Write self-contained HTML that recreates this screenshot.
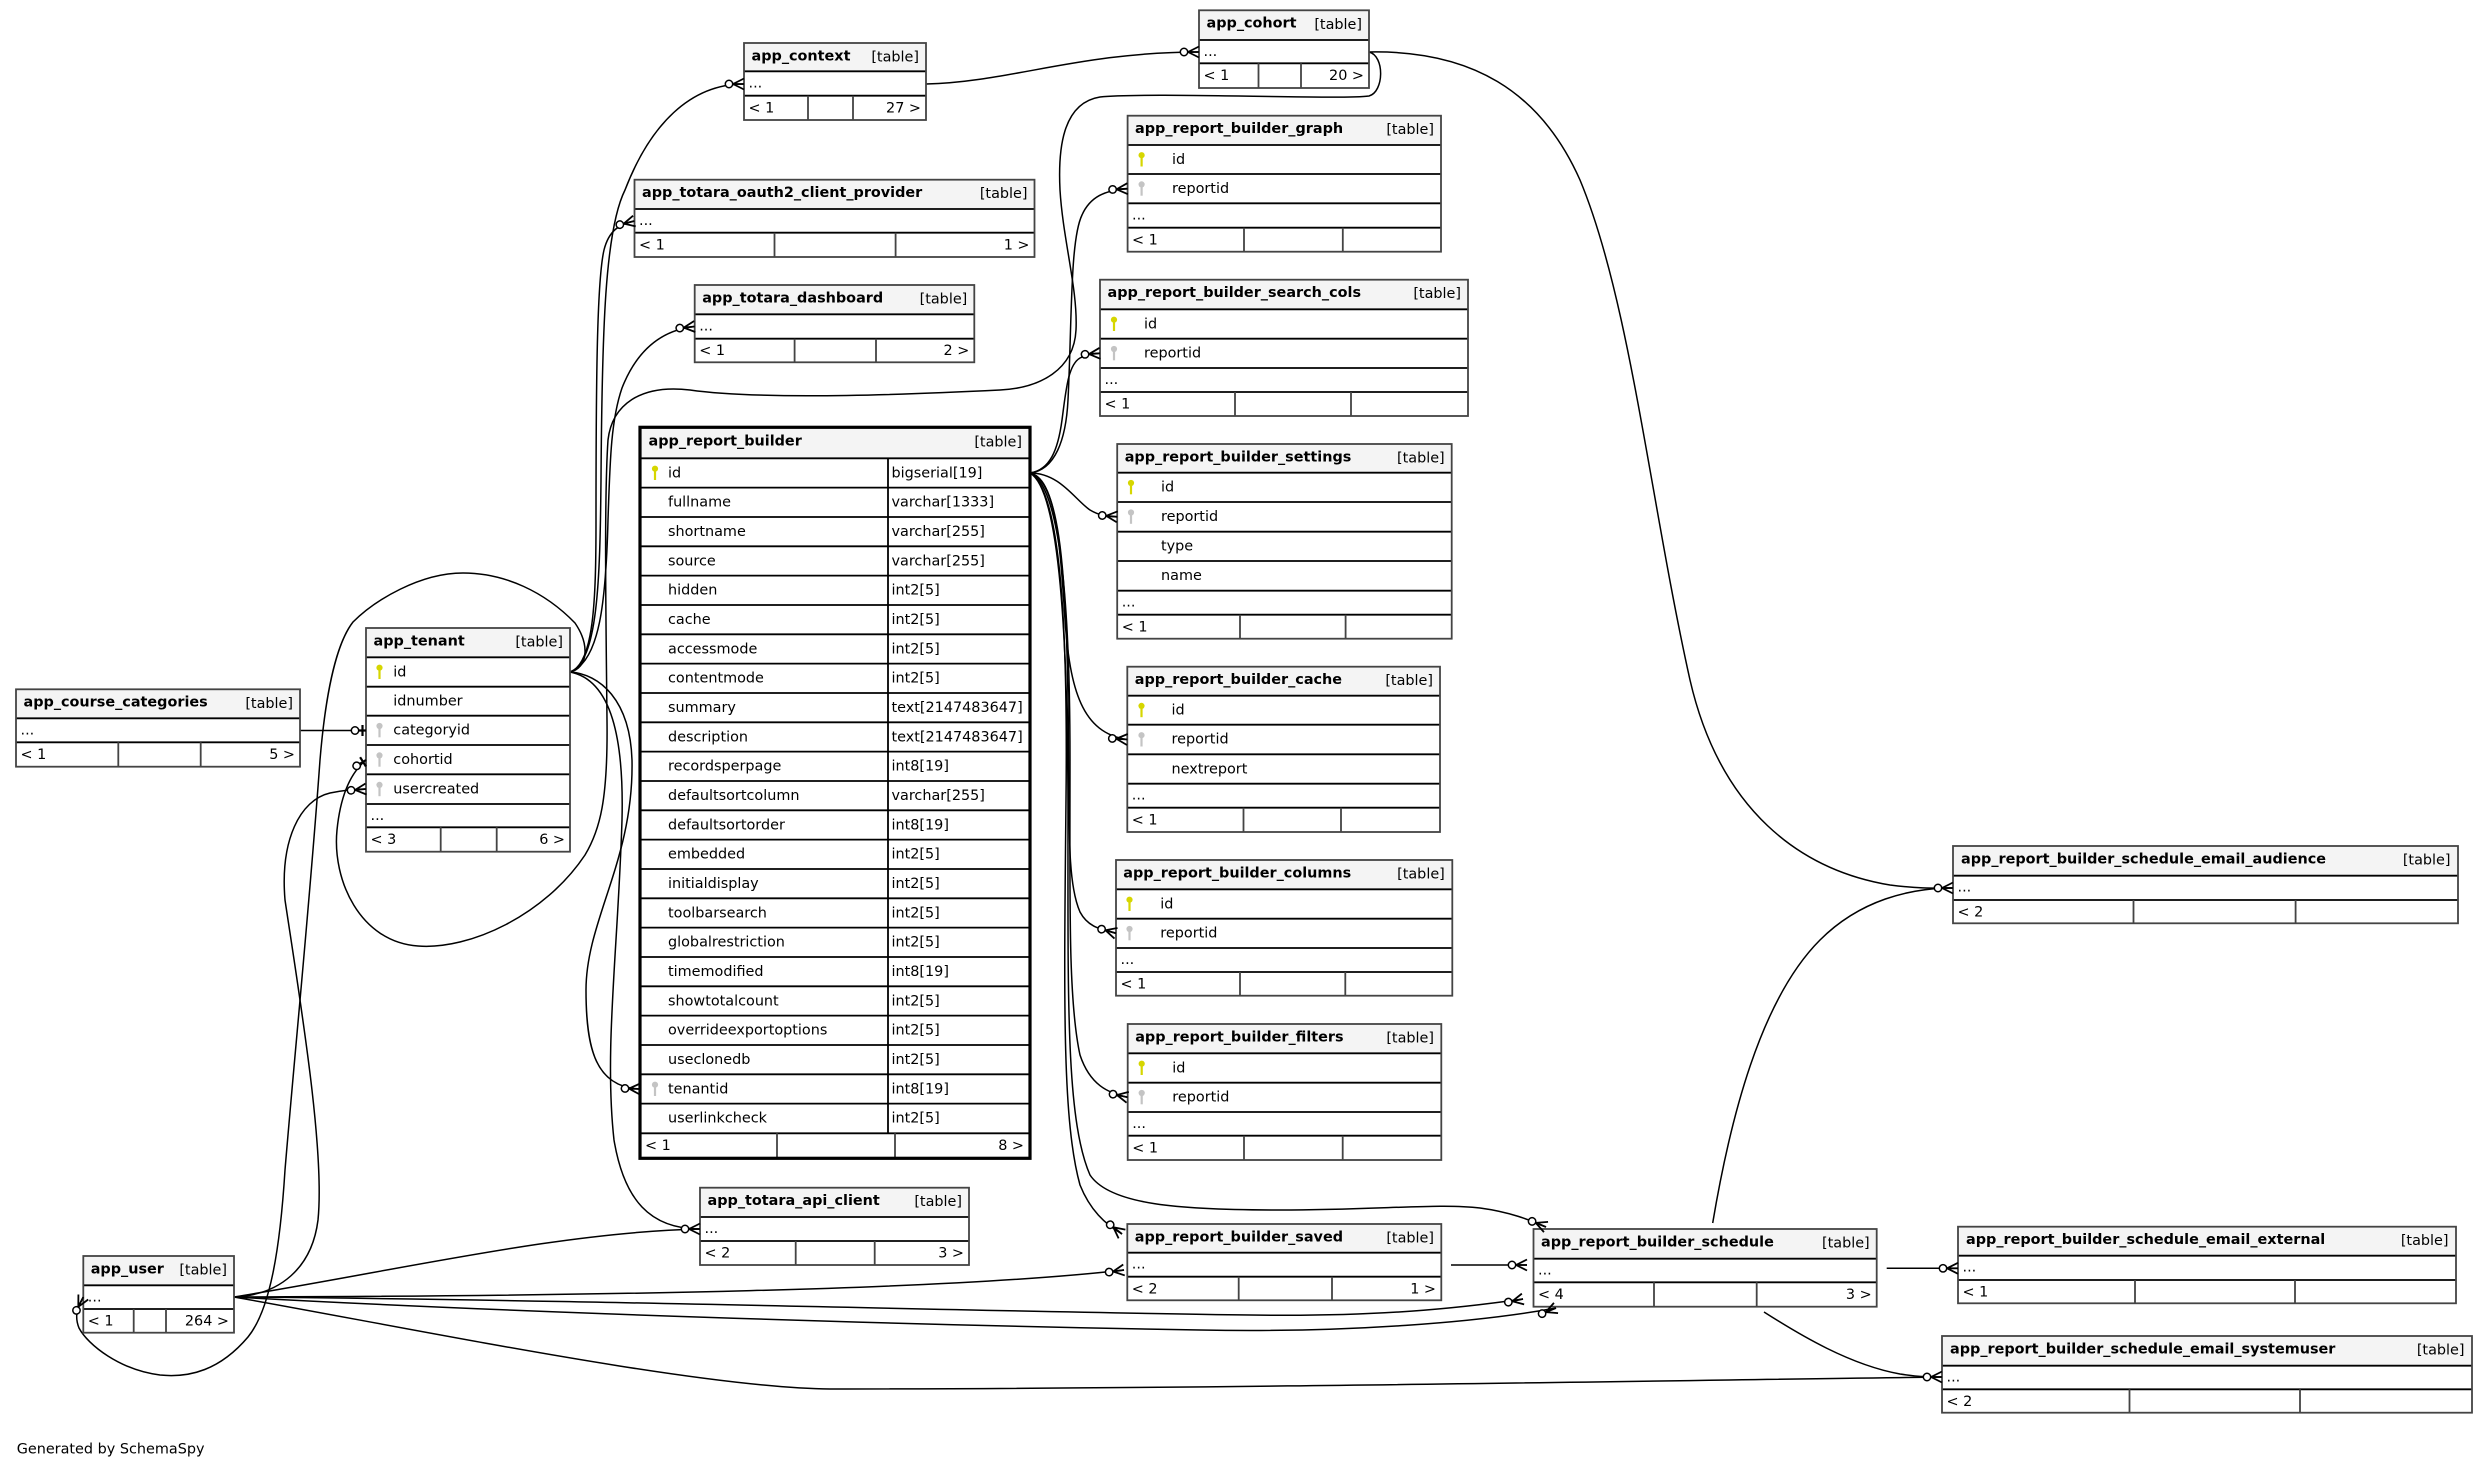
<!DOCTYPE html>
<html><head><meta charset="utf-8"><style>
html,body{margin:0;padding:0;background:#fff;}
svg{display:block;}
text{font-family:"DejaVu Sans","Liberation Sans",sans-serif;font-size:14.4px;fill:#000;}
.ti{font-weight:bold;}
.e{fill:none;stroke:#000;stroke-width:1.5;}
.sep{fill:none;stroke:#000;stroke-width:1.8;}
.dv{fill:none;stroke:#444;stroke-width:1.8;}
.ol{fill:none;stroke:#444;stroke-width:1.8;}
.olb{fill:none;stroke:#000;stroke-width:3.2;}
.bg{fill:#fff;}
.hd{fill:#f4f4f4;}
</style></head><body>
<svg xmlns="http://www.w3.org/2000/svg" xmlns:xlink="http://www.w3.org/1999/xlink" width="2484" height="1468" viewBox="0 0 2484 1468">
<defs>
<g id="pk"><circle cx="0" cy="-4.3" r="3.1" fill="#d6d600"/><rect x="-1.1" y="-2" width="2.2" height="9" fill="#d6d600"/></g>
<g id="fk"><circle cx="0" cy="-4.3" r="3.1" fill="#c4c4c4"/><rect x="-1.1" y="-2" width="2.2" height="9" fill="#c4c4c4"/></g>
<g id="crow"><path d="M-11,0 L0,-5.5 M-11,0 L0,5.5 M-11,0 L0,0" fill="none" stroke="#000" stroke-width="1.8"/><circle cx="-15" cy="0" r="3.7" fill="#fff" stroke="#000" stroke-width="1.5"/></g>
<g id="tee"><path d="M-8,0 L0,0 M-3.5,-5.5 L-3.5,5.5" fill="none" stroke="#000" stroke-width="2.2"/><circle cx="-11" cy="0" r="3.7" fill="#fff" stroke="#000" stroke-width="1.5"/></g>
</defs>

<!-- EDGES -->
<g class="e">
<path d="M570,672 C598,662 600,580 601,480 C602,330 605,230 625,190 C650,125 690,84 744,84"/>
<path d="M570,672 C594,664 596,600 596,520 C596,380 597,280 604,250 C609,230 620,224 634.4,221"/>
<path d="M570,672 C600,662 606,600 608,520 C610,460 611,420 622,388 C637,350 662,330 694.7,326.5"/>
<path d="M570,672 C600,674 630,700 632,760 C634,860 586,920 586,990 C586,1050 596,1087 640,1089"/>
<path d="M570,672 C612,680 624,740 622,820 C618,950 604,1050 614,1140 C624,1200 650,1229 700,1229"/>
<path d="M570,672 C588,668 590,645 575,623 C545,592 505,573 463,573 C420,573 375,600 353,622 C335,645 325,700 320,760 C310,900 295,1050 285,1170 C280,1250 270,1310 248,1337 C220,1370 190,1378 160,1375 C120,1370 88,1345 79,1328 C75,1318 76,1310 83.3,1297"/>
<path d="M234,1297 C280,1295 312,1268 318,1220 C325,1150 300,1000 285,900 C280,840 300,800 330,793 C345,790 355,789 366,789"/>
<path d="M1369,52 C1385,56 1384,92 1369,96 C1340,100 1150,92 1100,97 C1062,103 1058,150 1060,190 C1063,240 1078,290 1076,330 C1074,370 1040,388 1000,390 C900,395 760,400 690,390 C640,384 612,405 608,440 C604,500 606,620 607,720 C608,800 600,830 585,855 C545,915 470,950 418,946 C360,942 332,880 337,830 C340,800 348,775 366,760"/>
<path d="M300,730.5 L366,730.5"/>
<path d="M926,84 C1010,82 1080,52 1199,52"/>
<path d="M1030,473 C1055,470 1066,440 1068,400 C1072,320 1070,240 1082,215 C1090,197 1105,190 1127.6,188.7"/>
<path d="M1030,473 C1050,470 1058,450 1062,420 C1066,390 1068,365 1080,358 C1088,354 1093,353.5 1100,353.3"/>
<path d="M1030,473 C1060,473 1075,500 1090,510 C1100,516 1108,516.5 1117.2,516.8"/>
<path d="M1030,473 C1055,478 1060,540 1065,620 C1070,690 1082,733 1127.3,739.5"/>
<path d="M1030,473 C1058,480 1066,560 1068,700 C1070,820 1066,880 1080,912 C1088,927 1100,929 1116,933.3"/>
<path d="M1030,473 C1060,485 1070,600 1070,760 C1070,900 1068,1000 1080,1055 C1090,1085 1108,1093 1127.7,1097.3"/>
<path d="M1030,473 C1060,490 1068,620 1066,800 C1064,1000 1062,1120 1080,1185 C1090,1210 1105,1224 1122,1234"/>
<path d="M1030,473 C1060,490 1068,640 1068,820 C1068,1000 1066,1120 1090,1175 C1110,1205 1180,1210 1280,1210 C1380,1210 1440,1203 1480,1208 C1510,1212 1530,1220 1546,1227"/>
<path d="M234,1297 C400,1270 560,1232 700,1229"/>
<path d="M234,1297 C600,1296 950,1290 1124,1270"/>
<path d="M234,1297 C600,1300 1000,1312 1250,1315 C1380,1317 1460,1308 1523,1299"/>
<path d="M234,1297 C500,1312 900,1325 1200,1330 C1350,1333 1480,1322 1556,1308"/>
<path d="M234,1297 C420,1330 700,1388 830,1389 C1200,1389 1700,1380 1942,1377"/>
<path d="M1451,1265 L1527,1265"/>
<path d="M1886.7,1268.3 L1958,1268.3"/>
<path d="M1764,1312 C1800,1335 1850,1365 1900,1374 C1920,1377 1930,1377 1942,1377"/>
<path d="M1369,52 C1470,50 1540,90 1580,180 C1630,300 1650,500 1690,680 C1720,810 1800,870 1890,885 C1920,889 1940,888 1953,888"/>
<path d="M1712.7,1223 C1730,1120 1760,1000 1820,940 C1860,900 1910,888 1953,888"/>
</g>

<!-- app_context -->
<g>
<rect class="bg" x="744" y="43" width="182" height="77"/>
<rect class="hd" x="744" y="43" width="182" height="28.3"/>
<path class="sep" d="M744,71.3H926M744,95.7H926"/>
<path class="dv" d="M808,95.7V120M853,95.7V120"/>
<rect class="ol" x="744" y="43" width="182" height="77"/>
<text class="ti" x="751.5" y="60.3">app_context</text><text x="919" y="61.5" text-anchor="end">[table]</text>
<text x="748.5" y="87.3">...</text>
<text x="748.5" y="112.3">&lt; 1</text><text x="921" y="112.3" text-anchor="end">27 &gt;</text>
</g>

<!-- app_cohort -->
<g>
<rect class="bg" x="1199" y="10.3" width="170" height="77.7"/>
<rect class="hd" x="1199" y="10.3" width="170" height="29.7"/>
<path class="sep" d="M1199,40H1369M1199,63.3H1369"/>
<path class="dv" d="M1258.5,63.3V88M1301,63.3V88"/>
<rect class="ol" x="1199" y="10.3" width="170" height="77.7"/>
<text class="ti" x="1206.5" y="27.6">app_cohort</text><text x="1362" y="28.8" text-anchor="end">[table]</text>
<text x="1203.5" y="56">...</text>
<text x="1203.5" y="80">&lt; 1</text><text x="1364" y="80" text-anchor="end">20 &gt;</text>
</g>

<!-- oauth2 -->
<g>
<rect class="bg" x="634.5" y="179.7" width="400" height="77.3"/>
<rect class="hd" x="634.5" y="179.7" width="400" height="29.3"/>
<path class="sep" d="M634.5,209H1034.5M634.5,232.7H1034.5"/>
<path class="dv" d="M774.5,232.7V257M895.6,232.7V257"/>
<rect class="ol" x="634.5" y="179.7" width="400" height="77.3"/>
<text class="ti" x="642" y="197">app_totara_oauth2_client_provider</text><text x="1027.5" y="198.2" text-anchor="end">[table]</text>
<text x="639" y="225">...</text>
<text x="639" y="249.3">&lt; 1</text><text x="1029.5" y="249.3" text-anchor="end">1 &gt;</text>
</g>

<!-- dashboard -->
<g>
<rect class="bg" x="694.7" y="285" width="279.6" height="77.3"/>
<rect class="hd" x="694.7" y="285" width="279.6" height="29.3"/>
<path class="sep" d="M694.7,314.3H974.3M694.7,338.7H974.3"/>
<path class="dv" d="M794.6,338.7V362.3M876,338.7V362.3"/>
<rect class="ol" x="694.7" y="285" width="279.6" height="77.3"/>
<text class="ti" x="702.2" y="302.3">app_totara_dashboard</text><text x="967.3" y="303.5" text-anchor="end">[table]</text>
<text x="699.2" y="330.3">...</text>
<text x="699.2" y="355">&lt; 1</text><text x="969.3" y="355" text-anchor="end">2 &gt;</text>
</g>

<!-- graph -->
<g>
<rect class="bg" x="1127.6" y="115.7" width="313.4" height="136"/>
<rect class="hd" x="1127.6" y="115.7" width="313.4" height="29.3"/>
<path class="sep" d="M1127.6,145H1441M1127.6,174H1441M1127.6,203.3H1441M1127.6,227.7H1441"/>
<path class="dv" d="M1244,227.7V251.7M1342.8,227.7V251.7"/>
<rect class="ol" x="1127.6" y="115.7" width="313.4" height="136"/>
<text class="ti" x="1135" y="133">app_report_builder_graph</text><text x="1434" y="134.2" text-anchor="end">[table]</text>
<use xlink:href="#pk" x="1141.6" y="159.5"/><text x="1172" y="164">id</text>
<use xlink:href="#fk" x="1141.6" y="188.7"/><text x="1172" y="193.2">reportid</text>
<text x="1132" y="219.3">...</text>
<text x="1132" y="244.3">&lt; 1</text>
</g>

<!-- search_cols -->
<g>
<rect class="bg" x="1100" y="279.7" width="368" height="136.3"/>
<rect class="hd" x="1100" y="279.7" width="368" height="29.6"/>
<path class="sep" d="M1100,309.3H1468M1100,338.7H1468M1100,368H1468M1100,392H1468"/>
<path class="dv" d="M1235,392V416M1351,392V416"/>
<rect class="ol" x="1100" y="279.7" width="368" height="136.3"/>
<text class="ti" x="1107.5" y="297">app_report_builder_search_cols</text><text x="1461" y="298.2" text-anchor="end">[table]</text>
<use xlink:href="#pk" x="1114" y="324"/><text x="1144" y="328.3">id</text>
<use xlink:href="#fk" x="1114" y="353.3"/><text x="1144" y="357.7">reportid</text>
<text x="1104.5" y="384">...</text>
<text x="1104.5" y="408.6">&lt; 1</text>
</g>

<!-- settings -->
<g>
<rect class="bg" x="1117.2" y="444" width="334.5" height="194.7"/>
<rect class="hd" x="1117.2" y="444" width="334.5" height="28.7"/>
<path class="sep" d="M1117.2,472.7H1451.7M1117.2,502H1451.7M1117.2,531.7H1451.7M1117.2,561H1451.7M1117.2,590.7H1451.7M1117.2,614.7H1451.7"/>
<path class="dv" d="M1240,614.7V638.7M1345.6,614.7V638.7"/>
<rect class="ol" x="1117.2" y="444" width="334.5" height="194.7"/>
<text class="ti" x="1124.7" y="461.3">app_report_builder_settings</text><text x="1444.7" y="462.5" text-anchor="end">[table]</text>
<use xlink:href="#pk" x="1131" y="487.3"/><text x="1161" y="491.7">id</text>
<use xlink:href="#fk" x="1131" y="516.8"/><text x="1161" y="521">reportid</text>
<text x="1161" y="550.7">type</text>
<text x="1161" y="580">name</text>
<text x="1121.7" y="606.7">...</text>
<text x="1121.7" y="631.3">&lt; 1</text>
</g>

<!-- cache -->
<g>
<rect class="bg" x="1127.3" y="666.7" width="312.7" height="165.3"/>
<rect class="hd" x="1127.3" y="666.7" width="312.7" height="29"/>
<path class="sep" d="M1127.3,695.7H1440M1127.3,724.7H1440M1127.3,754.3H1440M1127.3,783.7H1440M1127.3,807.7H1440"/>
<path class="dv" d="M1243.5,807.7V832M1341,807.7V832"/>
<rect class="ol" x="1127.3" y="666.7" width="312.7" height="165.3"/>
<text class="ti" x="1134.8" y="684">app_report_builder_cache</text><text x="1433" y="685.2" text-anchor="end">[table]</text>
<use xlink:href="#pk" x="1141.5" y="710.2"/><text x="1171.5" y="714.7">id</text>
<use xlink:href="#fk" x="1141.5" y="739.5"/><text x="1171.5" y="743.7">reportid</text>
<text x="1171.5" y="773.3">nextreport</text>
<text x="1131.8" y="799.7">...</text>
<text x="1131.8" y="824.3">&lt; 1</text>
</g>

<!-- columns -->
<g>
<rect class="bg" x="1116" y="860" width="336.3" height="135.7"/>
<rect class="hd" x="1116" y="860" width="336.3" height="29.3"/>
<path class="sep" d="M1116,889.3H1452.3M1116,918.7H1452.3M1116,948H1452.3M1116,972H1452.3"/>
<path class="dv" d="M1240,972V995.7M1345.3,972V995.7"/>
<rect class="ol" x="1116" y="860" width="336.3" height="135.7"/>
<text class="ti" x="1123.3" y="877.3">app_report_builder_columns</text><text x="1444.8" y="878.5" text-anchor="end">[table]</text>
<use xlink:href="#pk" x="1129.5" y="904"/><text x="1160.3" y="908.3">id</text>
<use xlink:href="#fk" x="1129.5" y="933.3"/><text x="1160.3" y="937.7">reportid</text>
<text x="1120.5" y="964">...</text>
<text x="1120.5" y="988.6">&lt; 1</text>
</g>

<!-- filters -->
<g>
<rect class="bg" x="1127.7" y="1024" width="313.6" height="136"/>
<rect class="hd" x="1127.7" y="1024" width="313.6" height="29.3"/>
<path class="sep" d="M1127.7,1053.3H1441.3M1127.7,1082.7H1441.3M1127.7,1112H1441.3M1127.7,1135.7H1441.3"/>
<path class="dv" d="M1244,1135.7V1160M1342.7,1135.7V1160"/>
<rect class="ol" x="1127.7" y="1024" width="313.6" height="136"/>
<text class="ti" x="1135.2" y="1041.3">app_report_builder_filters</text><text x="1434" y="1042.5" text-anchor="end">[table]</text>
<use xlink:href="#pk" x="1141.7" y="1068"/><text x="1172.3" y="1072.3">id</text>
<use xlink:href="#fk" x="1141.7" y="1097.3"/><text x="1172.3" y="1101.7">reportid</text>
<text x="1132.2" y="1128">...</text>
<text x="1132.2" y="1152.3">&lt; 1</text>
</g>

<!-- saved -->
<g>
<rect class="bg" x="1127.3" y="1224" width="314" height="76.3"/>
<rect class="hd" x="1127.3" y="1224" width="314" height="28.7"/>
<path class="sep" d="M1127.3,1252.7H1441.3M1127.3,1276.7H1441.3"/>
<path class="dv" d="M1238.7,1276.7V1300.3M1332,1276.7V1300.3"/>
<rect class="ol" x="1127.3" y="1224" width="314" height="76.3"/>
<text class="ti" x="1134.8" y="1241.3">app_report_builder_saved</text><text x="1434" y="1242.5" text-anchor="end">[table]</text>
<text x="1131.8" y="1268.7">...</text>
<text x="1131.8" y="1293.3">&lt; 2</text><text x="1436" y="1293.3" text-anchor="end">1 &gt;</text>
</g>

<!-- schedule -->
<g>
<rect class="bg" x="1533.5" y="1229" width="343.2" height="77.7"/>
<rect class="hd" x="1533.5" y="1229" width="343.2" height="29.7"/>
<path class="sep" d="M1533.5,1258.7H1876.7M1533.5,1282.3H1876.7"/>
<path class="dv" d="M1654,1282.3V1306.7M1756.7,1282.3V1306.7"/>
<rect class="ol" x="1533.5" y="1229" width="343.2" height="77.7"/>
<text class="ti" x="1541" y="1246.3">app_report_builder_schedule</text><text x="1869.7" y="1247.5" text-anchor="end">[table]</text>
<text x="1538" y="1274.7">...</text>
<text x="1538" y="1299">&lt; 4</text><text x="1871.7" y="1299" text-anchor="end">3 &gt;</text>
</g>

<!-- audience -->
<g>
<rect class="bg" x="1953" y="846" width="505" height="77.3"/>
<rect class="hd" x="1953" y="846" width="505" height="29.7"/>
<path class="sep" d="M1953,875.7H2458M1953,900H2458"/>
<path class="dv" d="M2133.5,900V923.3M2295.6,900V923.3"/>
<rect class="ol" x="1953" y="846" width="505" height="77.3"/>
<text class="ti" x="1961" y="863.3">app_report_builder_schedule_email_audience</text><text x="2450.5" y="864.5" text-anchor="end">[table]</text>
<text x="1957.5" y="891.7">...</text>
<text x="1957.5" y="916.6">&lt; 2</text>
</g>

<!-- external -->
<g>
<rect class="bg" x="1958" y="1226.7" width="498" height="76.6"/>
<rect class="hd" x="1958" y="1226.7" width="498" height="29"/>
<path class="sep" d="M1958,1255.7H2456M1958,1280H2456"/>
<path class="dv" d="M2135,1280V1303.3M2295,1280V1303.3"/>
<rect class="ol" x="1958" y="1226.7" width="498" height="76.6"/>
<text class="ti" x="1966" y="1244">app_report_builder_schedule_email_external</text><text x="2448.5" y="1245.2" text-anchor="end">[table]</text>
<text x="1962.5" y="1271.7">...</text>
<text x="1962.5" y="1296.6">&lt; 1</text>
</g>

<!-- systemuser -->
<g>
<rect class="bg" x="1942" y="1336" width="530" height="76.7"/>
<rect class="hd" x="1942" y="1336" width="530" height="29.7"/>
<path class="sep" d="M1942,1365.7H2472M1942,1389.3H2472"/>
<path class="dv" d="M2129.5,1389.3V1412.7M2300,1389.3V1412.7"/>
<rect class="ol" x="1942" y="1336" width="530" height="76.7"/>
<text class="ti" x="1950" y="1353.3">app_report_builder_schedule_email_systemuser</text><text x="2464.5" y="1354.5" text-anchor="end">[table]</text>
<text x="1946.5" y="1381.7">...</text>
<text x="1946.5" y="1406">&lt; 2</text>
</g>

<!-- tenant -->
<g>
<rect class="bg" x="366" y="628" width="204" height="223.7"/>
<rect class="hd" x="366" y="628" width="204" height="29.3"/>
<path class="sep" d="M366,657.3H570M366,686.7H570M366,715.7H570M366,745H570M366,774.3H570M366,804H570M366,827.3H570"/>
<path class="dv" d="M440.7,827.3V851.7M496.7,827.3V851.7"/>
<rect class="ol" x="366" y="628" width="204" height="223.7"/>
<text class="ti" x="373.5" y="645.3">app_tenant</text><text x="563" y="646.5" text-anchor="end">[table]</text>
<use xlink:href="#pk" x="379.5" y="672"/><text x="393.3" y="676.3">id</text>
<text x="393.3" y="705.7">idnumber</text>
<use xlink:href="#fk" x="379.5" y="730.3"/><text x="393.3" y="734.7">categoryid</text>
<use xlink:href="#fk" x="379.5" y="759.7"/><text x="393.3" y="764">cohortid</text>
<use xlink:href="#fk" x="379.5" y="789.2"/><text x="393.3" y="793.3">usercreated</text>
<text x="370.5" y="820">...</text>
<text x="370.5" y="844">&lt; 3</text><text x="565" y="844" text-anchor="end">6 &gt;</text>
</g>

<!-- course categories -->
<g>
<rect class="bg" x="16" y="689.3" width="284" height="77.4"/>
<rect class="hd" x="16" y="689.3" width="284" height="29"/>
<path class="sep" d="M16,718.3H300M16,742.3H300"/>
<path class="dv" d="M118.3,742.3V766.7M200.7,742.3V766.7"/>
<rect class="ol" x="16" y="689.3" width="284" height="77.4"/>
<text class="ti" x="23.5" y="706.6">app_course_categories</text><text x="293" y="707.8" text-anchor="end">[table]</text>
<text x="20.5" y="734.3">...</text>
<text x="20.5" y="759">&lt; 1</text><text x="295" y="759" text-anchor="end">5 &gt;</text>
</g>

<!-- app_user -->
<g>
<rect class="bg" x="83.3" y="1256" width="150.7" height="76.7"/>
<rect class="hd" x="83.3" y="1256" width="150.7" height="29.3"/>
<path class="sep" d="M83.3,1285.3H234M83.3,1309H234"/>
<path class="dv" d="M133.7,1309V1332.7M166,1309V1332.7"/>
<rect class="ol" x="83.3" y="1256" width="150.7" height="76.7"/>
<text class="ti" x="90.7" y="1273.3">app_user</text><text x="227" y="1274.5" text-anchor="end">[table]</text>
<text x="87.8" y="1301.3">...</text>
<text x="87.8" y="1325.6">&lt; 1</text><text x="229" y="1325.6" text-anchor="end">264 &gt;</text>
</g>

<!-- api_client -->
<g>
<rect class="bg" x="700" y="1187.7" width="269" height="77.3"/>
<rect class="hd" x="700" y="1187.7" width="269" height="29.3"/>
<path class="sep" d="M700,1217H969M700,1241H969"/>
<path class="dv" d="M795.7,1241V1265M874.7,1241V1265"/>
<rect class="ol" x="700" y="1187.7" width="269" height="77.3"/>
<text class="ti" x="707.5" y="1205">app_totara_api_client</text><text x="962" y="1206.2" text-anchor="end">[table]</text>
<text x="704.5" y="1233">...</text>
<text x="704.5" y="1257.6">&lt; 2</text><text x="964" y="1257.6" text-anchor="end">3 &gt;</text>
</g>

<!-- app_report_builder -->
<g>
<rect class="bg" x="640" y="427.3" width="390" height="731"/>
<rect class="hd" x="640" y="427.3" width="390" height="31"/>
<path class="sep" d="M640,458.3H1030M640,487.6H1030M640,517H1030M640,546.3H1030M640,575.6H1030M640,605H1030M640,634.3H1030M640,663.6H1030M640,693H1030M640,722.3H1030M640,751.6H1030M640,781H1030M640,810.3H1030M640,839.6H1030M640,869H1030M640,898.3H1030M640,927.6H1030M640,957H1030M640,986.3H1030M640,1015.6H1030M640,1045H1030M640,1074.3H1030M640,1103.6H1030M640,1133.3H1030"/>
<path class="sep" d="M888,458.3V1133.3"/>
<path class="dv" d="M777,1133.3V1158.3M895,1133.3V1158.3"/>
<rect class="olb" x="640" y="427.3" width="390" height="731"/>
<text class="ti" x="648.5" y="445.3">app_report_builder</text><text x="1022" y="446.5" text-anchor="end">[table]</text>
<use xlink:href="#pk" x="655" y="473"/><text x="668" y="477.3">id</text><text x="891.5" y="477.3">bigserial[19]</text>
<text x="668" y="506.6">fullname</text><text x="891.5" y="506.6">varchar[1333]</text>
<text x="668" y="536">shortname</text><text x="891.5" y="536">varchar[255]</text>
<text x="668" y="565.3">source</text><text x="891.5" y="565.3">varchar[255]</text>
<text x="668" y="594.6">hidden</text><text x="891.5" y="594.6">int2[5]</text>
<text x="668" y="624">cache</text><text x="891.5" y="624">int2[5]</text>
<text x="668" y="653.3">accessmode</text><text x="891.5" y="653.3">int2[5]</text>
<text x="668" y="682.6">contentmode</text><text x="891.5" y="682.6">int2[5]</text>
<text x="668" y="712">summary</text><text x="891.5" y="712">text[2147483647]</text>
<text x="668" y="741.3">description</text><text x="891.5" y="741.3">text[2147483647]</text>
<text x="668" y="770.6">recordsperpage</text><text x="891.5" y="770.6">int8[19]</text>
<text x="668" y="800">defaultsortcolumn</text><text x="891.5" y="800">varchar[255]</text>
<text x="668" y="829.3">defaultsortorder</text><text x="891.5" y="829.3">int8[19]</text>
<text x="668" y="858.6">embedded</text><text x="891.5" y="858.6">int2[5]</text>
<text x="668" y="888">initialdisplay</text><text x="891.5" y="888">int2[5]</text>
<text x="668" y="917.3">toolbarsearch</text><text x="891.5" y="917.3">int2[5]</text>
<text x="668" y="946.6">globalrestriction</text><text x="891.5" y="946.6">int2[5]</text>
<text x="668" y="976">timemodified</text><text x="891.5" y="976">int8[19]</text>
<text x="668" y="1005.3">showtotalcount</text><text x="891.5" y="1005.3">int2[5]</text>
<text x="668" y="1034.6">overrideexportoptions</text><text x="891.5" y="1034.6">int2[5]</text>
<text x="668" y="1064">useclonedb</text><text x="891.5" y="1064">int2[5]</text>
<use xlink:href="#fk" x="655" y="1089"/><text x="668" y="1093.3">tenantid</text><text x="891.5" y="1093.3">int8[19]</text>
<text x="668" y="1122.6">userlinkcheck</text><text x="891.5" y="1122.6">int2[5]</text>
<text x="645" y="1150">&lt; 1</text><text x="1024" y="1150" text-anchor="end">8 &gt;</text>
</g>

<!-- MARKERS -->
<use xlink:href="#crow" transform="translate(744,84)"/>
<use xlink:href="#crow" transform="translate(1199,52)"/>
<use xlink:href="#crow" transform="translate(634.4,221) rotate(-14)"/>
<use xlink:href="#crow" transform="translate(694.7,326.5) rotate(-6)"/>
<use xlink:href="#crow" transform="translate(1127.6,188.7) rotate(-3)"/>
<use xlink:href="#crow" transform="translate(1100,353.3) rotate(-4)"/>
<use xlink:href="#crow" transform="translate(1117.2,516.8) rotate(5)"/>
<use xlink:href="#crow" transform="translate(1127.3,739.5) rotate(4)"/>
<use xlink:href="#crow" transform="translate(1116,933.3) rotate(16)"/>
<use xlink:href="#crow" transform="translate(1127.7,1097.3) rotate(12)"/>
<use xlink:href="#crow" transform="translate(1122,1234) rotate(38)"/>
<use xlink:href="#crow" transform="translate(1546,1227) rotate(22)"/>
<use xlink:href="#crow" transform="translate(640,1089) rotate(2)"/>
<use xlink:href="#crow" transform="translate(700,1229)"/>
<use xlink:href="#crow" transform="translate(83.3,1297) rotate(-63)"/>
<use xlink:href="#crow" transform="translate(366,789) rotate(-5)"/>
<use xlink:href="#tee" transform="translate(366,760) rotate(-32)"/>
<use xlink:href="#tee" transform="translate(366,730.5)"/>
<use xlink:href="#crow" transform="translate(1124,1270) rotate(-8)"/>
<use xlink:href="#crow" transform="translate(1527,1265)"/>
<use xlink:href="#crow" transform="translate(1523,1299) rotate(-12)"/>
<use xlink:href="#crow" transform="translate(1556,1308) rotate(-22)"/>
<use xlink:href="#crow" transform="translate(1958,1268.3)"/>
<use xlink:href="#crow" transform="translate(1942,1377)"/>
<use xlink:href="#crow" transform="translate(1953,888)"/>

<text x="16.7" y="1453.3">Generated by SchemaSpy</text>
</svg>
</body></html>
